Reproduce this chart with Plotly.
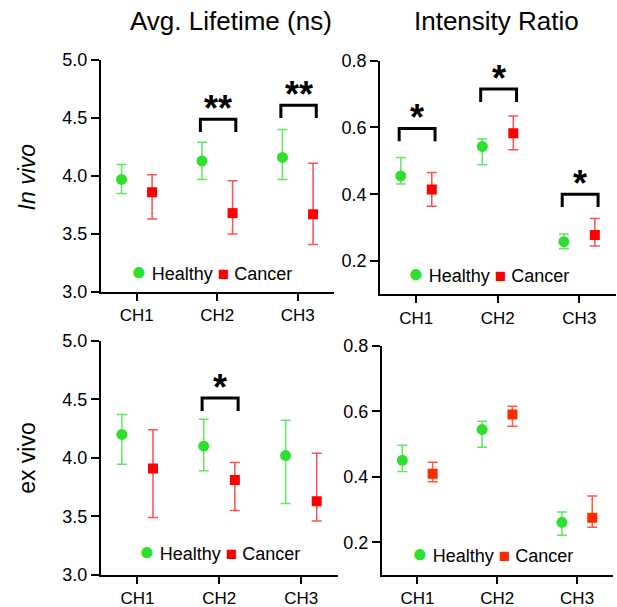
import plotly.graph_objects as go

# ---------------- data ----------------
channels = ["CH1", "CH2", "CH3"]
channel_pos = [1, 2, 3]

# In vivo, average lifetime (ns)
iv_life_healthy = [3.97, 4.13, 4.16]
iv_life_healthy_hi = [4.10, 4.29, 4.40]
iv_life_healthy_lo = [3.85, 3.97, 3.97]
iv_life_cancer = [3.86, 3.68, 3.67]
iv_life_cancer_hi = [4.01, 3.96, 4.11]
iv_life_cancer_lo = [3.63, 3.50, 3.41]

# In vivo, intensity ratio
iv_ratio_healthy = [0.455, 0.543, 0.258]
iv_ratio_healthy_hi = [0.510, 0.566, 0.281]
iv_ratio_healthy_lo = [0.431, 0.488, 0.237]
iv_ratio_cancer = [0.414, 0.583, 0.278]
iv_ratio_cancer_hi = [0.465, 0.634, 0.327]
iv_ratio_cancer_lo = [0.364, 0.533, 0.245]

# Ex vivo, average lifetime (ns)
ev_life_healthy = [4.20, 4.10, 4.02]
ev_life_healthy_hi = [4.37, 4.33, 4.32]
ev_life_healthy_lo = [3.945, 3.89, 3.61]
ev_life_cancer = [3.91, 3.81, 3.63]
ev_life_cancer_hi = [4.24, 3.96, 4.04]
ev_life_cancer_lo = [3.49, 3.55, 3.46]

# Ex vivo, intensity ratio
ev_ratio_healthy = [0.450, 0.544, 0.261]
ev_ratio_healthy_hi = [0.496, 0.569, 0.292]
ev_ratio_healthy_lo = [0.416, 0.490, 0.221]
ev_ratio_cancer = [0.409, 0.590, 0.275]
ev_ratio_cancer_hi = [0.444, 0.615, 0.341]
ev_ratio_cancer_lo = [0.385, 0.554, 0.246]

# significance brackets: (channel position, bracket level, label)
iv_life_sig = [(2, 4.49, "**"), (3, 4.61, "**")]
iv_ratio_sig = [(1, 0.597, "*"), (2, 0.715, "*"), (3, 0.400, "*")]
ev_life_sig = [(2, 4.51, "*")]
ev_ratio_sig = []

life_ticks = [3.0, 3.5, 4.0, 4.5, 5.0]
ratio_ticks = [0.2, 0.4, 0.6, 0.8]
group_names = ["Healthy", "Cancer"]

# ---------------- style ----------------
FONT = "Liberation Sans, Arial, Helvetica, sans-serif"
GREEN = "#2ee02e"
GREEN_ERR = "#5fe85f"
RED = "#ff0000"
RED_ERR = "#ff4f4f"
ORANGE = "#ff2a00"
ORANGE_ERR = "#ff5a3a"
OFFSET = 0.19
XRANGE = [0.555, 3.45]

panels = [
    dict(ax="", healthy=(iv_life_healthy, iv_life_healthy_hi, iv_life_healthy_lo),
         cancer=(iv_life_cancer, iv_life_cancer_hi, iv_life_cancer_lo),
         sig=iv_life_sig, yrange=[3.0, 5.0], ticks=life_ticks,
         xdom=[0.1637, 0.5413], ydom=[0.5189, 0.9012],
         leg_pos=(0.342, 0.5535), cancer_col=(RED, RED_ERR)),
    dict(ax="2", healthy=(iv_ratio_healthy, iv_ratio_healthy_hi, iv_ratio_healthy_lo),
         cancer=(iv_ratio_cancer, iv_ratio_cancer_hi, iv_ratio_cancer_lo),
         sig=iv_ratio_sig, yrange=[0.1, 0.8], ticks=ratio_ticks,
         xdom=[0.6159, 0.9984], ydom=[0.5150, 0.9000],
         leg_pos=(0.792, 0.5497), cancer_col=(RED, RED_ERR)),
    dict(ax="3", healthy=(ev_life_healthy, ev_life_healthy_hi, ev_life_healthy_lo),
         cancer=(ev_life_cancer, ev_life_cancer_hi, ev_life_cancer_lo),
         sig=ev_life_sig, yrange=[3.0, 5.0], ticks=life_ticks,
         xdom=[0.1637, 0.5478], ydom=[0.0527, 0.4387],
         leg_pos=(0.356, 0.0927), cancer_col=(RED, RED_ERR)),
    dict(ax="4", healthy=(ev_ratio_healthy, ev_ratio_healthy_hi, ev_ratio_healthy_lo),
         cancer=(ev_ratio_cancer, ev_ratio_cancer_hi, ev_ratio_cancer_lo),
         sig=ev_ratio_sig, yrange=[0.1, 0.8], ticks=ratio_ticks,
         xdom=[0.6191, 0.9935], ydom=[0.0527, 0.4305],
         leg_pos=(0.798, 0.0885), cancer_col=(ORANGE, ORANGE_ERR)),
]

fig = go.Figure()
layout = dict(
    template="none",
    width=617, height=607,
    margin=dict(l=0, r=0, t=0, b=0, autoexpand=False),
    paper_bgcolor="white", plot_bgcolor="white",
    font=dict(family=FONT, color="black", size=17),
    showlegend=False,
    shapes=[], annotations=[],
)

for p in panels:
    xa = "x" + p["ax"]
    ya = "y" + p["ax"]
    for name, (vals, hi, lo), sym, size, col, ecol, off in [
        (group_names[0], p["healthy"], "circle", 11, GREEN, GREEN_ERR, -OFFSET),
        (group_names[1], p["cancer"], "square", 10, p["cancer_col"][0], p["cancer_col"][1], OFFSET),
    ]:
        fig.add_trace(go.Scatter(
            x=[c + off for c in channel_pos], y=vals,
            mode="markers", name=name, xaxis=xa, yaxis=ya,
            marker=dict(symbol=sym, size=size, color=col, line=dict(width=0)),
            error_y=dict(type="data", symmetric=False,
                         array=[h - v for h, v in zip(hi, vals)],
                         arrayminus=[v - l for v, l in zip(vals, lo)],
                         color=ecol, thickness=1.5, width=5),
        ))
    xkey = "xaxis" + p["ax"]
    ykey = "yaxis" + p["ax"]
    layout[xkey] = dict(
        domain=p["xdom"], anchor=ya, range=XRANGE, automargin=False,
        tickmode="array", tickvals=channel_pos, ticktext=channels,
        showgrid=False, zeroline=False, showline=True, linecolor="black",
        linewidth=2, ticks="outside", ticklen=7, tickwidth=2, tickcolor="black",
        tickfont=dict(size=17, family=FONT, color="black"),
    )
    layout[ykey] = dict(
        domain=p["ydom"], anchor=xa, range=p["yrange"], automargin=False,
        tickmode="array", tickvals=p["ticks"], tickformat=".1f",
        showgrid=False, zeroline=False, showline=True, linecolor="black",
        linewidth=2, ticks="outside", ticklen=8, tickwidth=2, tickcolor="black",
        tickfont=dict(size=18, family=FONT, color="black"),
    )
    # in-panel key: ● Healthy ■ Cancer
    ccol = p["cancer_col"][0]
    layout["annotations"].append(dict(
        x=p["leg_pos"][0], y=p["leg_pos"][1], xref="paper", yref="paper",
        showarrow=False, xanchor="center", yanchor="middle",
        text=(f"<span style='color:{GREEN};font-size:26px'>●</span> {group_names[0]} "
              f"<span style='color:{ccol};font-size:19px'>■</span> {group_names[1]}"),
        font=dict(size=18, family=FONT, color="black"),
    ))
    span = p["yrange"][1] - p["yrange"][0]
    drop = 0.055 * span
    for ch, level, label in p["sig"]:
        x0 = ch - 0.21
        x1 = ch + 0.23
        layout["shapes"].append(dict(
            type="path", xref=xa, yref=ya,
            path=f"M {x0},{level - drop} L {x0},{level} L {x1},{level} L {x1},{level - drop}",
            line=dict(color="black", width=3),
        ))
        layout["annotations"].append(dict(
            x=(x0 + x1) / 2, y=level, xref=xa, yref=ya, text=f"<b>{label}</b>",
            showarrow=False, yanchor="middle", yshift=11,
            font=dict(size=36, family=FONT, color="black"),
        ))

# column titles and row labels
layout["annotations"] += [
    dict(x=0.374, y=0.966, xref="paper", yref="paper", text="Avg. Lifetime (ns)",
         showarrow=False, xanchor="center", yanchor="middle",
         font=dict(size=26, family=FONT, color="black")),
    dict(x=0.805, y=0.966, xref="paper", yref="paper", text="Intensity Ratio",
         showarrow=False, xanchor="center", yanchor="middle",
         font=dict(size=26, family=FONT, color="black")),
    dict(x=0.044, y=0.708, xref="paper", yref="paper", text="<i>In vivo</i>",
         showarrow=False, textangle=-90, xanchor="center", yanchor="middle",
         font=dict(size=23, family=FONT, color="black")),
    dict(x=0.044, y=0.246, xref="paper", yref="paper", text="ex vivo",
         showarrow=False, textangle=-90, xanchor="center", yanchor="middle",
         font=dict(size=23, family=FONT, color="black")),
]

fig.update_layout(**layout)
fig.write_html(
    "out.html",
    config={"displayModeBar": False},
    post_script="document.body.style.margin='0';document.body.style.overflow='hidden';",
)
